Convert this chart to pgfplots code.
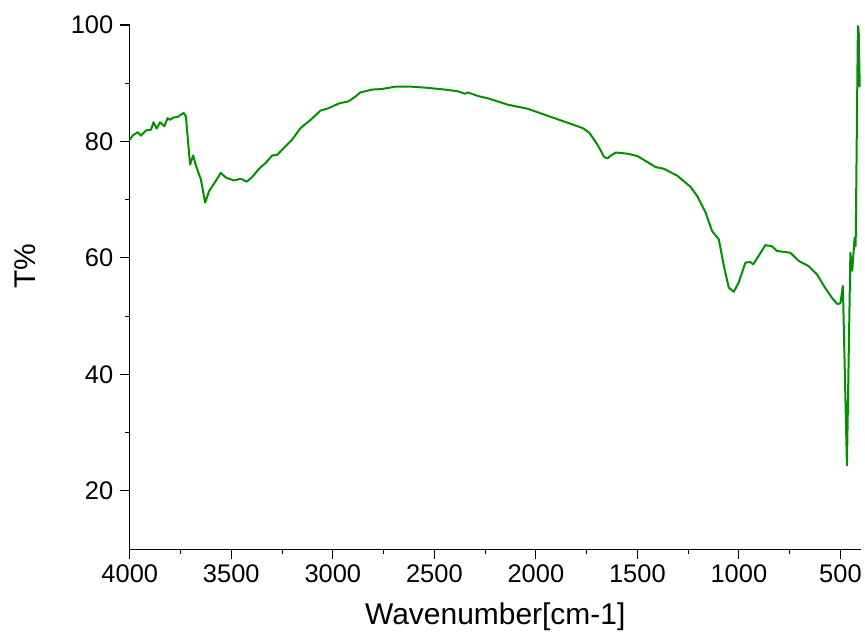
\documentclass[border=0pt]{standalone}
\usepackage{pgfplots}
\pgfplotsset{compat=1.18}
\usepackage{fontspec}
\setmainfont{Liberation Sans}
\definecolor{ftir}{RGB}{0,145,0}
\begin{document}
\begin{tikzpicture}
\begin{axis}[
  scale only axis,
  width=732pt, height=525pt,
  x dir=reverse,
  xmin=400, xmax=4000,
  ymin=10, ymax=100,
  xtick={500,1000,...,4000},
  ytick={20,40,...,100},
  minor x tick num=1,
  minor y tick num=1,
  axis x line*=bottom,
  axis y line*=left,
  axis line style={-, line width=1.2pt},
  tick align=outside,
  major tick length=10pt,
  minor tick length=5pt,
  every tick/.style={black, line width=1.1pt},
  /pgf/number format/assume math mode=true,
  /pgf/number format/1000 sep={},
  tick label style={font=\fontsize{25.5}{30}\selectfont},
  xticklabel style={yshift=-2pt},
  yticklabel style={xshift=-3pt},
  xlabel={Wavenumber[cm-1]},
  ylabel={T\%},
  label style={font=\fontsize{30}{36}\selectfont},
  xlabel style={at={(axis description cs:0.5,-0.128)}, anchor=center},
  ylabel style={at={(axis description cs:-0.1435,0.54)}, anchor=center},
  clip=false,
]
\addplot[color=ftir, line width=2pt, line join=round] coordinates {
(4000,80.3) (3986,81.0) (3961,81.6) (3945,81.0) (3920,81.9) (3896,82.0)
(3883,83.3) (3868,82.2) (3851,83.3) (3830,82.6) (3814,84.0) (3802,83.7)
(3786,84.1) (3765,84.2) (3735,84.9) (3724,84.3) (3703,76.0) (3688,77.6)
(3672,75.6) (3650,73.5) (3629,69.5) (3609,71.5) (3577,73.2) (3552,74.6)
(3527,73.8) (3487,73.3) (3454,73.6) (3424,73.1) (3397,73.9) (3364,75.3)
(3331,76.3) (3299,77.6) (3274,77.7) (3250,78.6) (3201,80.3) (3159,82.3)
(3110,83.7) (3061,85.3) (3021,85.7) (2972,86.5) (2922,86.9) (2889,87.7)
(2865,88.4) (2808,88.9) (2759,89.0) (2693,89.4) (2612,89.4) (2530,89.2)
(2448,88.9) (2383,88.6) (2350,88.2) (2334,88.4) (2285,87.8) (2236,87.4)
(2137,86.3) (2039,85.6) (1941,84.4) (1843,83.2) (1794,82.6) (1770,82.3)
(1737,81.5) (1696,79.4) (1663,77.3) (1647,77.1) (1630,77.6) (1606,78.1)
(1549,77.9) (1500,77.5) (1410,75.6) (1369,75.3) (1303,74.1) (1238,72.2)
(1205,70.6) (1164,67.8) (1132,64.6) (1099,63.2) (1074,58.6) (1050,54.9)
(1025,54.2) (1001,55.8) (968,59.2) (944,59.3) (930,58.9) (902,60.4)
(870,62.2) (837,62.0) (813,61.2) (747,60.9) (706,59.5) (657,58.6)
(616,57.2) (576,54.9) (543,53.2) (516,52.1) (500,52.2) (488,55.2)
(468,24.4) (451,60.9) (442,57.8) (430,63.5) (425,62.0) (414,99.8)
(410,99.0) (405,89.4) (403,89.4)
};
\end{axis}
\path (current axis.south west) ++(-130pt,-84pt) coordinate (bbA);
\path (current axis.north east) ++(3pt,25pt) coordinate (bbB);
\path (bbA) rectangle (bbB);
\end{tikzpicture}
\end{document}
